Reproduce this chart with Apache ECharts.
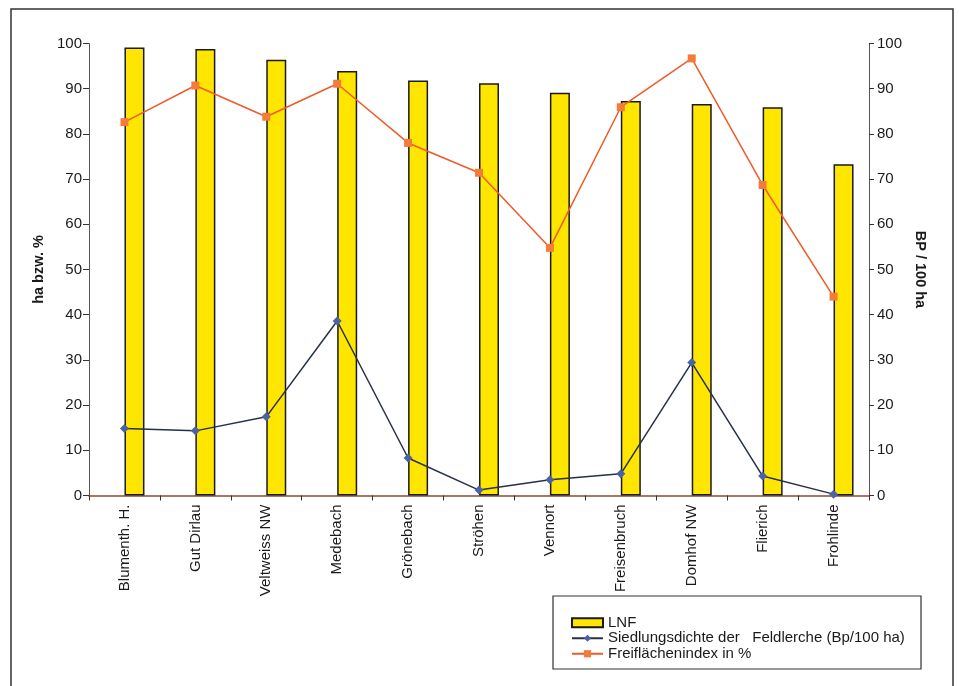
<!DOCTYPE html>
<html>
<head>
<meta charset="utf-8">
<script src="https://cdn.jsdelivr.net/npm/echarts@6/dist/echarts.min.js"></script>
<style>
  html, body { margin: 0; padding: 0; background: #ffffff; }
  #chart { width: 959px; height: 686px; }
</style>
</head>
<body>
<div id="chart"></div>
<script>
// Untersuchungsflächen
const categories = ['Blumenth. H.', 'Gut Dirlau', 'Veltweiss NW', 'Medebach', 'Grönebach',
  'Ströhen', 'Vennort', 'Freisenbruch', 'Domhof NW', 'Flierich', 'Frohlinde'];
// Anteil landwirtschaftlicher Nutzfläche (ha bzw. %)
const lnf = [99.1, 98.8, 96.4, 93.9, 91.8, 91.2, 89.1, 87.3, 86.6, 85.9, 73.3];
// Siedlungsdichte der Feldlerche (Bp/100 ha)
const siedlungsdichte = [14.8, 14.3, 17.4, 38.6, 8.3, 1.2, 3.5, 4.8, 29.4, 4.3, 0.3];
// Freiflächenindex in %
const freiflaechen = [82.6, 90.7, 83.8, 91.1, 78.0, 71.4, 54.8, 85.9, 96.7, 68.7, 44.0];
// Achsenbereich
const axisMin = 0, axisMax = 100, axisStep = 10;

const font = 'Arial, "Liberation Sans", sans-serif';
const textColor = '#1a1a1a';

const chart = echarts.init(document.getElementById('chart'));
chart.setOption({
  backgroundColor: '#ffffff',
  animation: false,
  grid: { left: 89, right: 90, top: 43.5, bottom: 190.5 },
  graphic: [
    { type: 'rect', shape: { x: 11, y: 9, width: 942, height: 700 },
      style: { fill: 'none', stroke: '#333', lineWidth: 1.5 }, silent: true },
    { type: 'rect', shape: { x: 553, y: 596, width: 368, height: 73 },
      style: { fill: '#fff', stroke: '#333', lineWidth: 1.2 }, silent: true, z: 5 }
  ],
  legend: {
    left: 566, top: 610, orient: 'vertical', itemGap: 0,
    itemWidth: 31, itemHeight: 9, z: 10,
    textStyle: { fontFamily: font, fontSize: 15, color: textColor, lineHeight: 15.5 },
    data: [
      { name: 'LNF', icon: 'rect' },
      'Siedlungsdichte der   Feldlerche (Bp/100 ha)',
      'Freiflächenindex in %'
    ]
  },
  xAxis: {
    type: 'category', data: categories,
    axisLine: { lineStyle: { color: '#8a4b32', width: 1.5 } },
    axisTick: { show: true, length: 5, lineStyle: { color: '#333' } },
    axisLabel: { rotate: 90, margin: 9, fontFamily: font, fontSize: 15, color: textColor }
  },
  yAxis: [
    {
      type: 'value', min: axisMin, max: axisMax, interval: axisStep,
      name: 'ha bzw. %', nameLocation: 'middle', nameRotate: 90, nameGap: 42,
      nameTextStyle: { fontFamily: font, fontSize: 14.5, fontWeight: 'bold', color: textColor },
      axisLine: { show: true, lineStyle: { color: '#555', width: 1 } },
      axisTick: { show: true, length: 6, lineStyle: { color: '#333' } },
      axisLabel: { margin: 7, fontFamily: font, fontSize: 15, color: textColor },
      splitLine: { show: false }
    },
    {
      type: 'value', min: axisMin, max: axisMax, interval: axisStep, position: 'right',
      name: 'BP / 100 ha', nameLocation: 'middle', nameRotate: -90, nameGap: 41,
      nameTextStyle: { fontFamily: font, fontSize: 14.5, fontWeight: 'bold', color: textColor },
      axisLine: { show: true, lineStyle: { color: '#555', width: 1 } },
      axisTick: { show: true, length: 5, lineStyle: { color: '#333' } },
      axisLabel: { margin: 8, fontFamily: font, fontSize: 15, color: textColor },
      splitLine: { show: false }
    }
  ],
  series: [
    { // leerer Platzhalter links vom Balken
      name: '_leer', type: 'bar', data: categories.map(() => '-'),
      barWidth: 20, barGap: '0%'
    },
    {
      name: 'LNF', type: 'bar', data: lnf, barWidth: 20, barGap: '0%',
      itemStyle: { color: '#ffe600', borderColor: '#1a1a1a', borderWidth: 1.5 }
    },
    {
      name: 'Siedlungsdichte der   Feldlerche (Bp/100 ha)', type: 'line', yAxisIndex: 1,
      data: siedlungsdichte, symbol: 'diamond', symbolSize: 9,
      lineStyle: { color: '#26304a', width: 1.5 },
      itemStyle: { color: '#4a62a6' }, z: 4
    },
    {
      name: 'Freiflächenindex in %', type: 'line', yAxisIndex: 0,
      data: freiflaechen, symbol: 'rect', symbolSize: 8,
      lineStyle: { color: '#f05a28', width: 1.5 },
      itemStyle: { color: '#f47b3c' }, z: 4
    }
  ]
});
</script>
</body>
</html>
